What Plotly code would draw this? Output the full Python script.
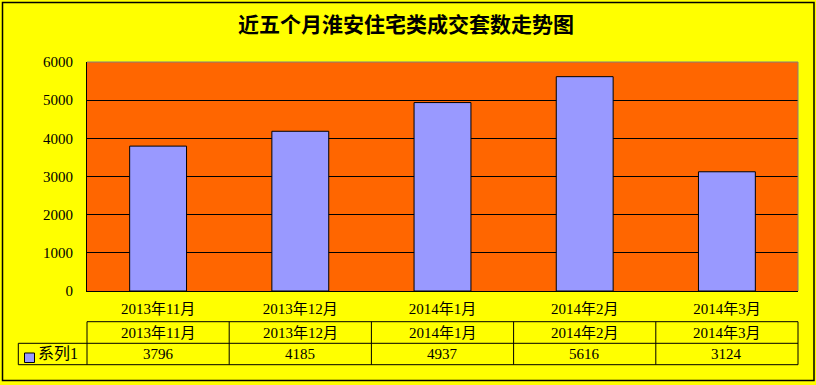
import plotly.graph_objects as go

categories = ["2013年11月", "2013年12月", "2014年1月", "2014年2月", "2014年3月"]
values = [3796, 4185, 4937, 5616, 3124]
series_name = "系列1"
y_ticks = [0, 1000, 2000, 3000, 4000, 5000, 6000]
title_text = "近五个月淮安住宅类成交套数走势图"

FONT = "Liberation Serif, Noto Sans CJK SC, serif"
BAR_COLOR = "#9999FF"

# layout geometry (pixels)
W, H = 816, 385
L, R, T, B = 87, 18, 62, 94
plot_h = H - T - B
plot_w = W - L - R


def py(pix):
    """convert pixel y (from top) to paper y"""
    return (H - B - pix) / plot_h


def px(pix):
    return (pix - L) / plot_w


fig = go.Figure()
fig.add_trace(go.Bar(
    x=categories, y=values, name=series_name,
    marker=dict(color=BAR_COLOR, line=dict(color="black", width=1)),
    showlegend=False,
))

shapes = []
# top & right gray border of plot area
shapes.append(dict(type="line", xref="paper", yref="paper", x0=0, x1=1, y0=1, y1=1,
                   line=dict(color="#808080", width=1), layer="above"))
shapes.append(dict(type="line", xref="paper", yref="paper", x0=1, x1=1, y0=0, y1=1,
                   line=dict(color="#808080", width=1), layer="above"))

# data table lines
n = len(categories)
r1_top, r2_top, r3_bot = py(321.7), py(343.3), py(364.7)
leg_left = px(18.3)
shapes.append(dict(type="line", xref="paper", yref="paper", x0=0, x1=1, y0=r1_top, y1=r1_top,
                   line=dict(color="black", width=1)))
shapes.append(dict(type="line", xref="paper", yref="paper", x0=leg_left, x1=1, y0=r2_top, y1=r2_top,
                   line=dict(color="black", width=1)))
shapes.append(dict(type="line", xref="paper", yref="paper", x0=leg_left, x1=1, y0=r3_bot, y1=r3_bot,
                   line=dict(color="black", width=1)))
for i in range(n + 1):
    shapes.append(dict(type="line", xref="paper", yref="paper", x0=i / n, x1=i / n,
                       y0=r1_top, y1=r3_bot, line=dict(color="black", width=1)))
shapes.append(dict(type="line", xref="paper", yref="paper", x0=leg_left, x1=leg_left,
                   y0=r2_top, y1=r3_bot, line=dict(color="black", width=1)))
# legend key
shapes.append(dict(type="rect", xref="paper", yref="paper", x0=px(24.5), x1=px(34.5),
                   y0=py(362.5), y1=py(353), fillcolor=BAR_COLOR, line=dict(color="black", width=1)))
# outer chart border
shapes.append(dict(type="rect", xref="paper", yref="paper", x0=px(2.5), x1=px(814), y0=py(380.5), y1=py(2.5),
                   line=dict(color="black", width=1.5), fillcolor="rgba(0,0,0,0)"))

annotations = []
row2_y, row3_y = py(332.5), py(354)
for i, (c, v) in enumerate(zip(categories, values)):
    xc = (i + 0.5) / n
    annotations.append(dict(x=xc, y=row2_y, xref="paper", yref="paper", text=c, showarrow=False,
                            font=dict(family=FONT, size=15, color="black"), xanchor="center", yanchor="middle"))
    annotations.append(dict(x=xc, y=row3_y, xref="paper", yref="paper", text=str(v), showarrow=False,
                            font=dict(family=FONT, size=15, color="black"), xanchor="center", yanchor="middle"))
annotations.append(dict(x=px(36), y=row3_y, xref="paper", yref="paper", text=series_name, showarrow=False,
                        font=dict(family=FONT, size=16, color="black"), xanchor="left", yanchor="middle"))

fig.update_layout(
    width=W, height=H,
    margin=dict(l=L, r=R, t=T, b=B, pad=0),
    paper_bgcolor="#FFFF00",
    plot_bgcolor="#FF6600",
    bargap=0.6,
    title=dict(text=title_text, x=406 / W, xanchor="center", y=1 - 25 / H, yanchor="middle",
               font=dict(family="Noto Sans CJK SC", size=21, color="black", weight="bold")),
    xaxis=dict(showline=True, linecolor="black", linewidth=1, ticks="", showgrid=False,
               tickfont=dict(family=FONT, size=15, color="black"), ticklabelstandoff=4,
               range=[-0.5, n - 0.5], fixedrange=True),
    yaxis=dict(range=[0, 6000], tickvals=y_ticks, showline=True, linecolor="black", linewidth=1,
               showgrid=True, gridcolor="black", gridwidth=1, ticks="", zeroline=False,
               tickfont=dict(family=FONT, size=15, color="black"), ticklabelstandoff=10, fixedrange=True),
    shapes=shapes,
    annotations=annotations,
    font=dict(family=FONT, color="black"),
)

fig.write_html("out.html", config={"displayModeBar": False},
               post_script="document.body.style.margin='0';document.body.style.overflow='hidden';")
